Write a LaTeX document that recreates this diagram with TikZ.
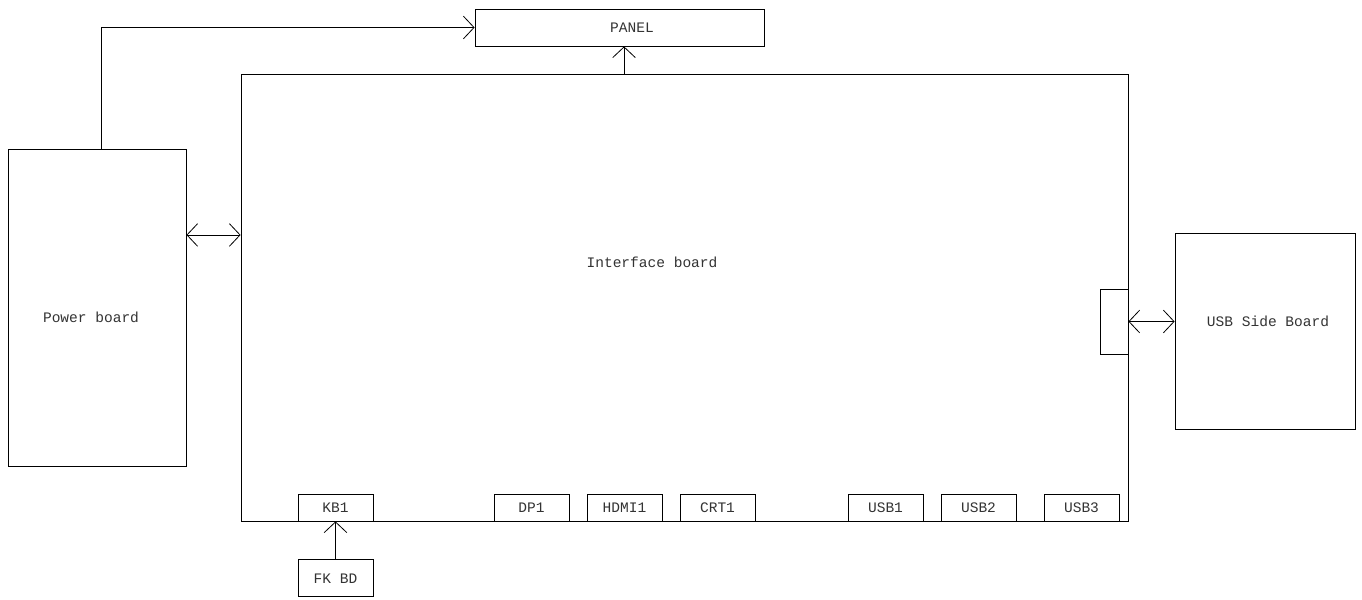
\documentclass[tikz,border=0pt]{standalone}
\usepackage{fontspec}
\setmonofont{Liberation Mono}
\usetikzlibrary{positioning, arrows.meta}

\begin{document}
\begin{tikzpicture}[
  x=0.75pt, y=-0.75pt,
  board/.style={draw, inner sep=0pt},
  port/.style={draw, inner sep=0pt, minimum width=56.25pt, minimum height=20.25pt, font=\ttfamily\fontsize{10.9}{13}\selectfont, text=black!80},
  txt/.style={font=\ttfamily\fontsize{10.9}{13}\selectfont, text=black!80},
  line width=0.6pt,
  >={Straight Barb[length=8pt, width=17pt]},
]
\useasboundingbox (0,0) rectangle (1362,599);

% boards
\node[board, minimum width=216.75pt, minimum height=27.75pt] (panel) at (619.5,27.5) {};
\node[txt] (paneltxt) at (632,27.5) {PANEL};
\node[board, minimum width=665.25pt, minimum height=335.25pt] (ifb) at (684.5,297.5) {};
\node[txt] (ifbtxt) at (652,262) {Interface board};
\node[board, minimum width=133.5pt, minimum height=237.75pt] (pwr) at (97,307.5) {};
\node[txt] (pwrtxt) at (91,317) {Power board};
\node[board, minimum width=135pt, minimum height=147pt] (usbsb) at (1265,331) {};
\node[txt] (usbsbtxt) at (1268,321) {USB Side Board};
\node[board, minimum width=21pt, minimum height=48.75pt] (conn) at (1114,321.5) {};

% ports along the bottom edge
\node[port] (kb1) at (335.5,507.5) {KB1};
\node[port] (dp1) at (531.5,507.5) {DP1};
\node[port] (hdmi1) at (624.5,507.5) {HDMI1};
\node[port] (crt1) at (717.5,507.5) {CRT1};
\node[port] (usb1) at (885.5,507.5) {USB1};
\node[port] (usb2) at (978.5,507.5) {USB2};
\node[port] (usb3) at (1081.5,507.5) {USB3};
\node[port, minimum height=27.75pt, below=28.5pt of kb1] (fkbd) {FK BD};

% connections
\draw[->] ([xshift=3pt]pwr.north) |- (panel.west);
\draw[->] ([xshift=3.4pt]panel.south |- ifb.north) -- ([xshift=3.4pt]panel.south);
\draw[<->] ([yshift=54.4pt]pwr.east) coordinate (pl) -- (pl -| ifb.west);
\draw[<->] (conn.east) -- (conn.east -| usbsb.west);
\draw[->] (fkbd) -- (kb1);
\end{tikzpicture}
\end{document}
